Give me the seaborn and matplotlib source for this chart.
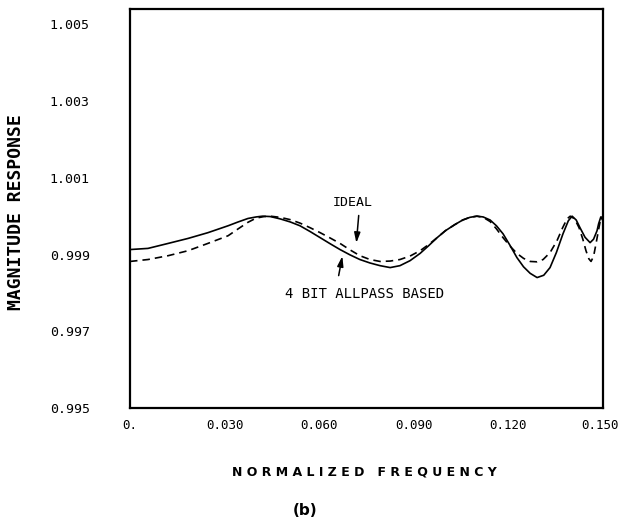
import numpy as np
import pandas as pd
import matplotlib
matplotlib.use("Agg")
import matplotlib.pyplot as plt
import matplotlib.transforms as mtransforms
import seaborn as sns

# ideal equiripple response (dashed)
freq_ideal = [0.0, 0.0057, 0.0121, 0.0184, 0.0247, 0.0311, 0.0343, 0.0374, 0.0400, 0.0425,
              0.0445, 0.0476, 0.0508, 0.0539, 0.0571, 0.0603, 0.0635, 0.0666, 0.0698, 0.0729,
              0.0761, 0.0793, 0.0825, 0.0856, 0.0888, 0.0920, 0.0947, 0.0974, 0.1000, 0.1030,
              0.1055, 0.1078, 0.1100, 0.1120, 0.1142, 0.1162, 0.1183, 0.1205, 0.1227, 0.1248,
              0.1269, 0.1291, 0.1310, 0.1332, 0.1354, 0.1372, 0.1386, 0.1396, 0.1410, 0.1424,
              0.1436, 0.1446, 0.1455, 0.1462, 0.1470, 0.1478, 0.1486, 0.1493, 0.1500]
mag_ideal = [0.99882, 0.99887, 0.99897, 0.99910, 0.99929, 0.99949, 0.99967, 0.99984, 0.99995, 0.99999,
             1.00000, 0.99997, 0.99991, 0.99982, 0.99970, 0.99957, 0.99943, 0.99929, 0.99912, 0.99897,
             0.99887, 0.99882, 0.99883, 0.99887, 0.99896, 0.99910, 0.99926, 0.99944, 0.99962, 0.99978,
             0.99990, 0.99997, 1.00000, 0.99997, 0.99986, 0.99967, 0.99944, 0.99922, 0.99903, 0.99890,
             0.99882, 0.99881, 0.99887, 0.99905, 0.99936, 0.99970, 0.99993, 1.00000, 0.99993, 0.99970,
             0.99940, 0.99910, 0.99889, 0.99882, 0.99895, 0.99929, 0.99965, 0.99995, 1.00000]

# 4 bit allpass based response (solid)
freq_4bit = [0.0, 0.0057, 0.0121, 0.0184, 0.0247, 0.0311, 0.0343, 0.0374, 0.0400, 0.0420,
             0.0445, 0.0476, 0.0508, 0.0539, 0.0571, 0.0603, 0.0635, 0.0666, 0.0698, 0.0729,
             0.0761, 0.0793, 0.0825, 0.0856, 0.0888, 0.0920, 0.0947, 0.0974, 0.1000, 0.1030,
             0.1055, 0.1078, 0.1100, 0.1120, 0.1142, 0.1162, 0.1183, 0.1205, 0.1227, 0.1248,
             0.1269, 0.1291, 0.1312, 0.1332, 0.1352, 0.1373, 0.1390, 0.1402, 0.1415, 0.1427,
             0.1443, 0.1459, 0.1470, 0.1481, 0.1486, 0.1493, 0.1500]
mag_4bit = [0.99913, 0.99916, 0.99929, 0.99942, 0.99957, 0.99975, 0.99985, 0.99994, 0.99998, 1.00000,
            0.99999, 0.99993, 0.99985, 0.99975, 0.99960, 0.99944, 0.99928, 0.99913, 0.99899, 0.99887,
            0.99878, 0.99871, 0.99866, 0.99871, 0.99884, 0.99903, 0.99923, 0.99944, 0.99962, 0.99978,
            0.99990, 0.99997, 1.00000, 0.99998, 0.99990, 0.99975, 0.99954, 0.99924, 0.99892, 0.99868,
            0.99851, 0.99840, 0.99846, 0.99866, 0.99905, 0.99954, 0.99988, 1.00000, 0.99990, 0.99970,
            0.99945, 0.99931, 0.99940, 0.99962, 0.99980, 0.99998, 0.99988]

x_ticks = [0.0, 0.030, 0.060, 0.090, 0.120, 0.150]
x_labels = ["0.", "0.030", "0.060", "0.090", "0.120", "0.150"]
y_ticks = [0.995, 0.997, 0.999, 1.001, 1.003, 1.005]
y_labels = ["0.995", "0.997", "0.999", "1.001", "1.003", "1.005"]

sns.set_style("white")
plt.rcParams["font.family"] = ["DejaVu Sans Mono", "DejaVu Sans"]
plt.rcParams["text.color"] = "black"
plt.rcParams["axes.labelcolor"] = "black"
plt.rcParams["xtick.color"] = "black"
plt.rcParams["ytick.color"] = "black"

fig = plt.figure(figsize=(6.2, 5.21), dpi=100)
ax = fig.add_axes([0.2097, 0.2169, 0.7629, 0.7658])

df_ideal = pd.DataFrame({"freq": freq_ideal, "mag": mag_ideal})
df_4bit = pd.DataFrame({"freq": freq_4bit, "mag": mag_4bit})

sns.lineplot(data=df_4bit, x="freq", y="mag", ax=ax, color="black", lw=1.2, sort=False)
sns.lineplot(data=df_ideal, x="freq", y="mag", ax=ax, color="black", lw=1.2,
             dashes=False, sort=False, linestyle=(0, (4.5, 3.0)))

ax.set_xlim(0.0, 0.150)
ax.set_ylim(0.995, 1.0054)
ax.set_xticks(x_ticks)
ax.set_xticklabels(x_labels)
ax.set_yticks(y_ticks)
ax.set_yticklabels(y_labels)
ax.tick_params(axis="x", direction="in", length=3, width=1, pad=8, labelsize=9)
ax.tick_params(axis="y", direction="in", length=5, width=1, pad=29, labelsize=9.5)

# nudge the last x label so it stays inside the figure
last = ax.get_xticklabels()[-1]
last.set_transform(last.get_transform() +
                   mtransforms.ScaledTranslation(-3 / 100, 0, fig.dpi_scale_trans))

for sp in ax.spines.values():
    sp.set_visible(True)
    sp.set_color("black")
    sp.set_linewidth(1.6)

ax.set_xlabel("N O R M A L I Z E D   F R E Q U E N C Y", fontsize=9,
              fontweight="bold", family="DejaVu Sans")
ax.set_ylabel("MAGNITUDE RESPONSE", fontsize=13, fontweight="bold")
ax.xaxis.set_label_coords(0.495, -0.143)
ax.yaxis.set_label_coords(-0.222, 0.49)

# labels with arrows
arrow_kw = dict(arrowstyle="-|>,head_length=0.6,head_width=0.18", color="black", lw=1.1)
ax.text(0.0707, 1.00035, "IDEAL", ha="center", va="center", fontsize=9.5)
ax.annotate("", xy=(0.0717, 0.99923), xytext=(0.0726, 1.00009), arrowprops=arrow_kw)
ax.text(0.0745, 0.99796, "4 BIT ALLPASS BASED", ha="center", va="center", fontsize=10)
ax.annotate("", xy=(0.0675, 0.99903), xytext=(0.0660, 0.99838), arrowprops=arrow_kw)

fig.text(0.492, 0.021, "(b)", ha="center", va="center", fontsize=11,
         fontweight="bold", family="DejaVu Sans")

fig.savefig("out.png", dpi=100)
